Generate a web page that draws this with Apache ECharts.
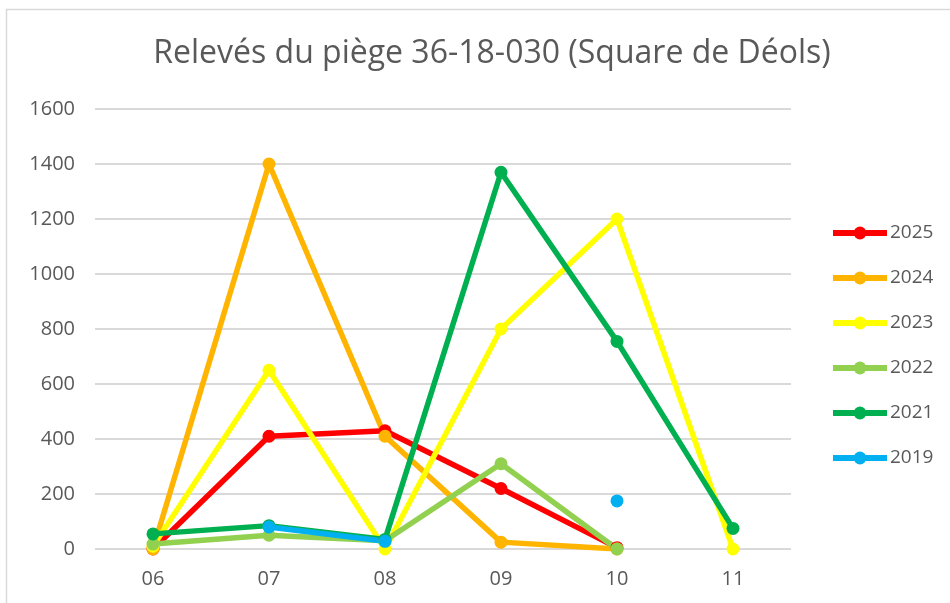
<!DOCTYPE html>
<html><head><meta charset="utf-8">
<script src="https://cdn.jsdelivr.net/npm/echarts@6/dist/echarts.min.js"></script>
<style>html,body{margin:0;padding:0;background:#fff}#c{width:950px;height:603px}</style>
</head><body><div id="c"></div>
<script>
var categories = ['06','07','08','09','10','11'];
var s2025 = [0, 410, 430, 220, 5, null];
var s2024 = [0, 1400, 410, 25, 0, null];
var s2023 = [10, 650, 0, 800, 1200, 0];
var s2022 = [18, 50, 30, 310, 0, null];
var s2021 = [55, 85, 35, 1370, 755, 75];
var s2019 = [null, 80, 28, null, 175, null];
var yTicks = [0, 200, 400, 600, 800, 1000, 1200, 1400, 1600];

var seriesDefs = [
  ['2025', s2025, '#FF0000'],
  ['2024', s2024, '#FFB400'],
  ['2023', s2023, '#FFFF00'],
  ['2022', s2022, '#92D050'],
  ['2021', s2021, '#00B050'],
  ['2019', s2019, '#00B0F0']
];

var chart = echarts.init(document.getElementById('c'));
var font = "Open Sans, Liberation Sans, sans-serif";
chart.setOption({
  animation: false,
  backgroundColor: '#fff',
  title: {
    text: 'Relevés du piège 36-18-030 (Square de Déols)',
    left: 487, top: 33, textAlign: 'center',
    textStyle: {fontFamily: font, fontSize: 32, fontWeight: 'normal', color: '#595959'}
  },
  graphic: [{type: 'rect', shape: {x: 6.5, y: 9.5, width: 960, height: 620},
    style: {fill: 'none', stroke: '#D9D9D9', lineWidth: 1.5}, silent: true}],
  legend: {
    orient: 'vertical', left: 830, top: 223, padding: 0,
    itemWidth: 54, itemHeight: 16, itemGap: 25,
    lineStyle: {width: 6},
    textStyle: {fontFamily: font, fontSize: 19, lineHeight: 20, color: '#595959', padding: [0,0,0,-2]},
    data: seriesDefs.map(function(d){return d[0];})
  },
  grid: {left: 95, right: 159, top: 109, bottom: 54},
  xAxis: {
    type: 'category', data: categories, boundaryGap: true,
    axisLine: {show: false}, axisTick: {show: false},
    axisLabel: {fontFamily: font, fontSize: 20, color: '#595959', margin: 20}
  },
  yAxis: {
    type: 'value', min: 0, max: 1600, interval: 200,
    axisLabel: {fontFamily: font, fontSize: 20, color: '#595959', margin: 20,
      formatter: function(v){ return yTicks.indexOf(v) >= 0 ? String(v) : ''; }},
    splitLine: {lineStyle: {color: '#D9D9D9', width: 2}},
    axisLine: {show: false}, axisTick: {show: false}
  },
  series: seriesDefs.map(function(d){
    return {
      name: d[0], type: 'line', data: d[1], connectNulls: false,
      symbol: 'circle', symbolSize: 13, showAllSymbol: true,
      lineStyle: {color: d[2], width: 5.5},
      itemStyle: {color: d[2]}
    };
  })
});
</script></body></html>
